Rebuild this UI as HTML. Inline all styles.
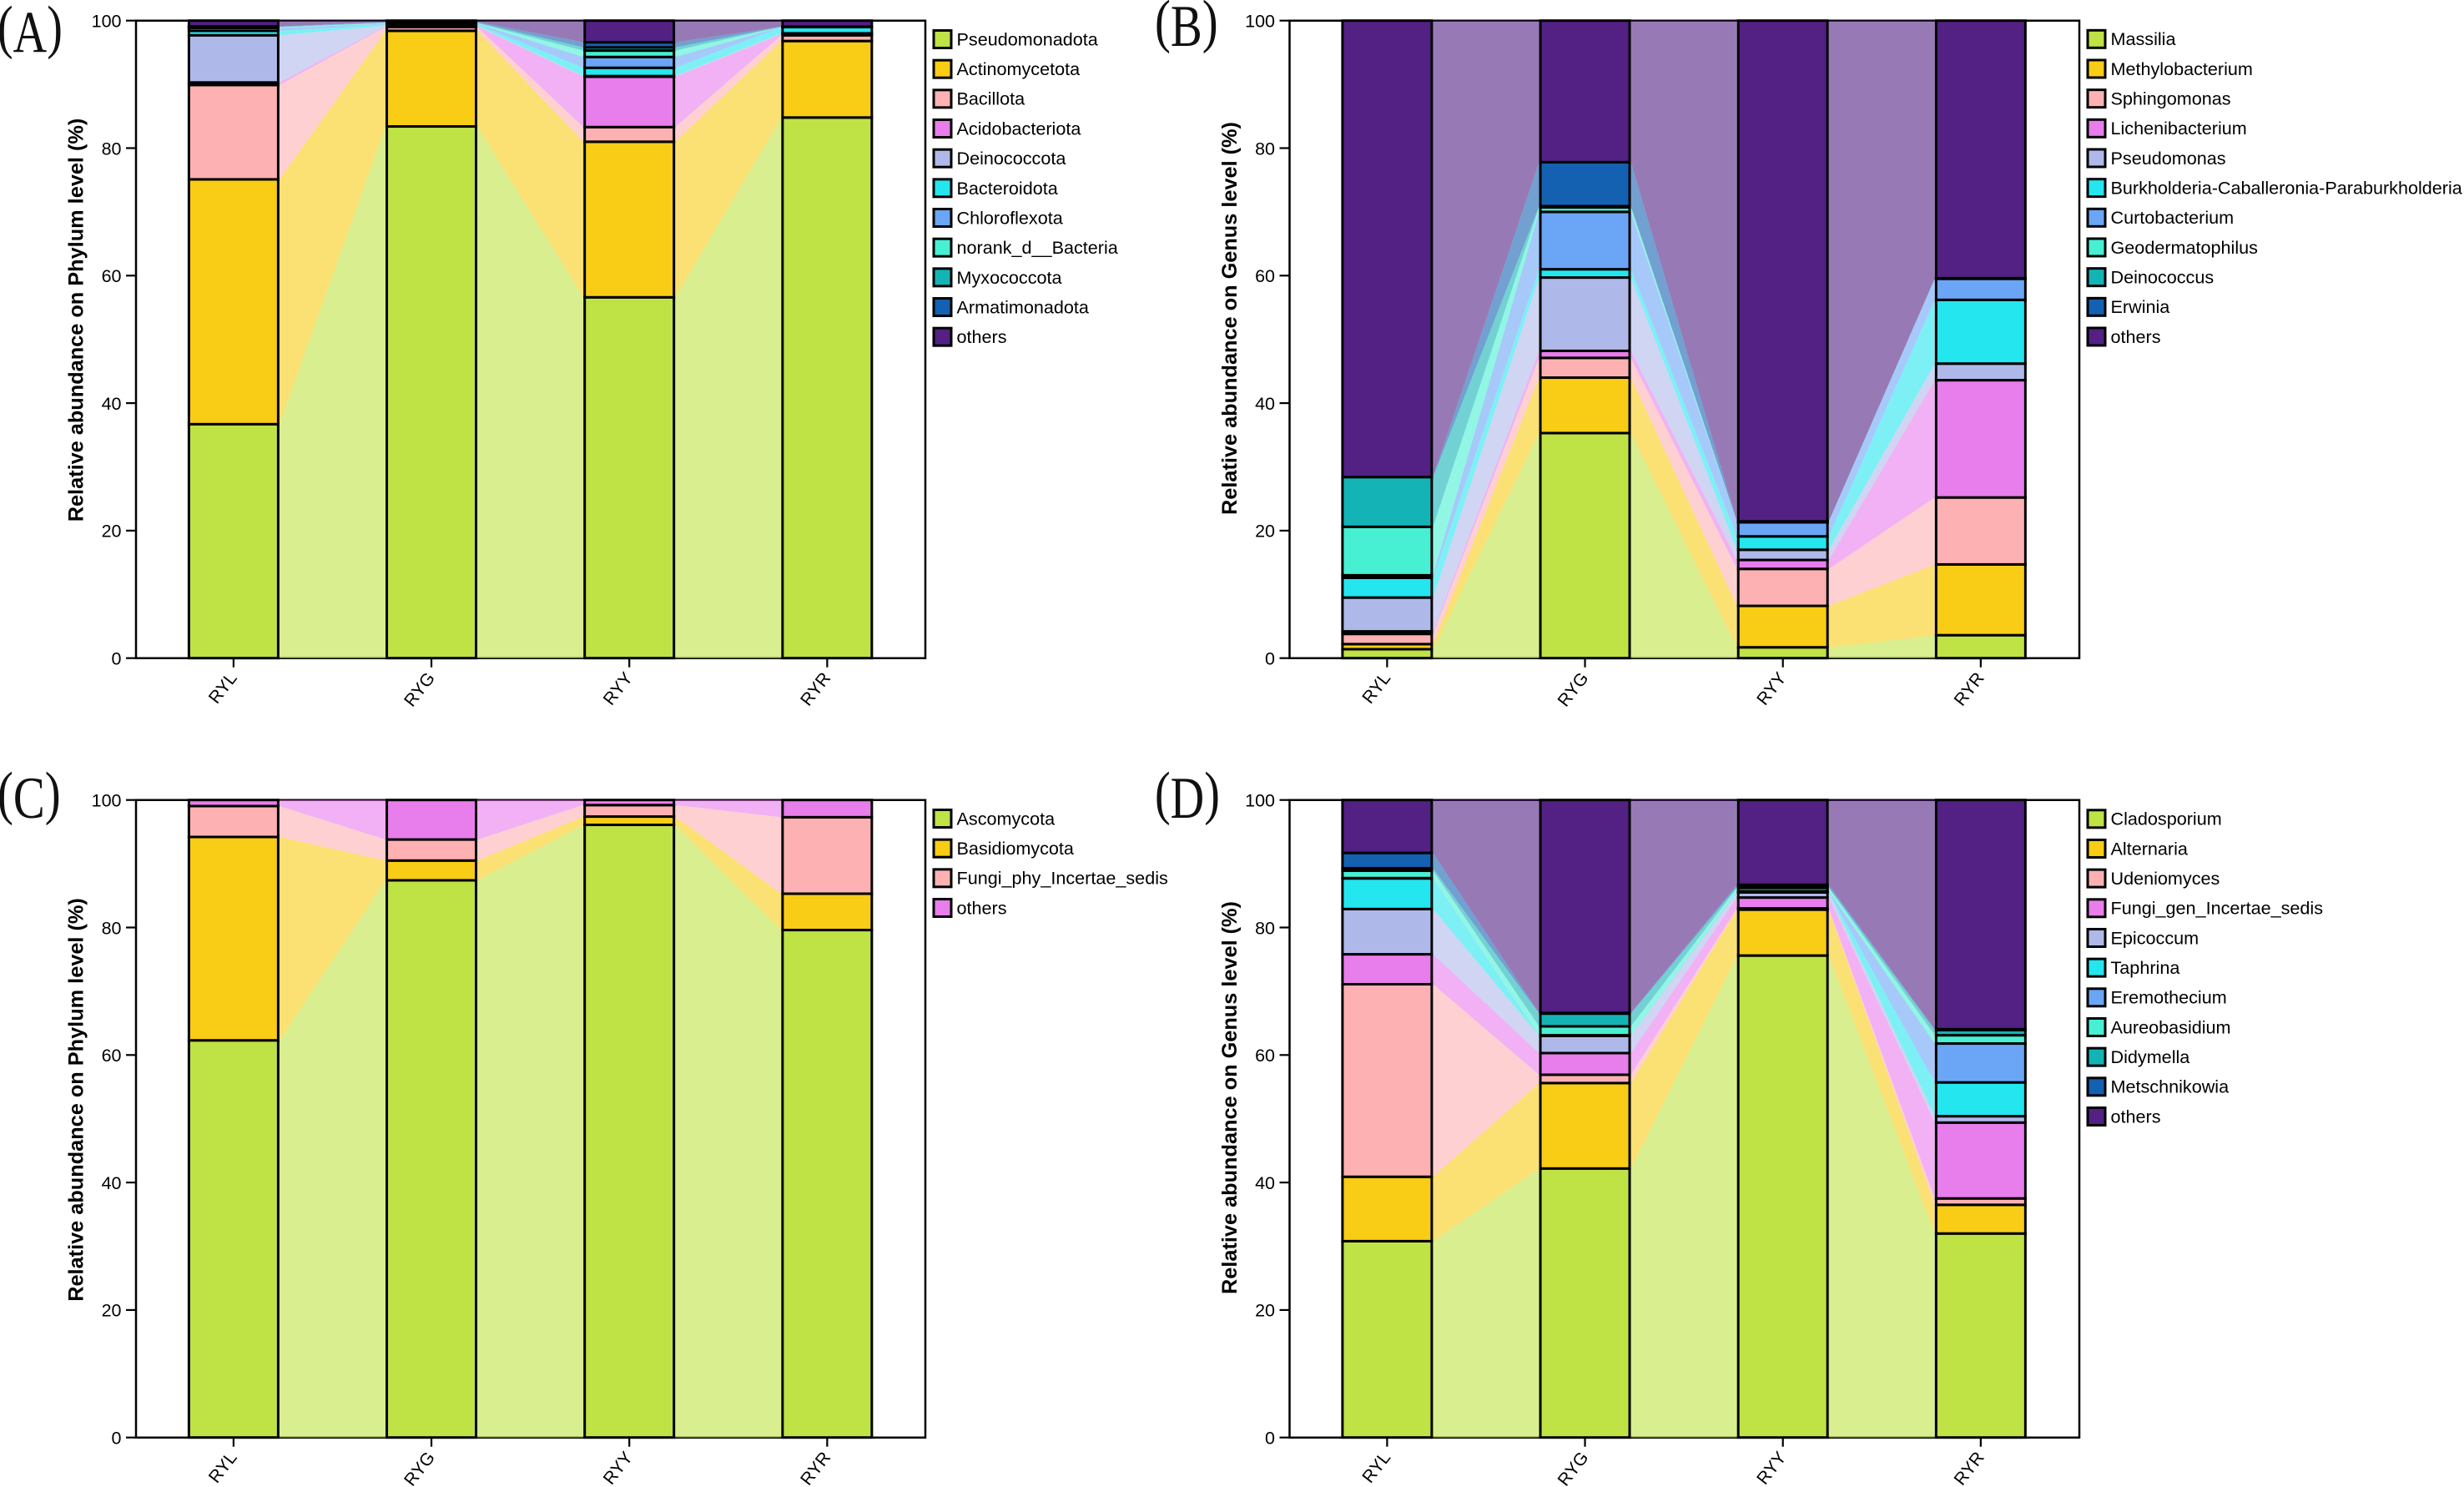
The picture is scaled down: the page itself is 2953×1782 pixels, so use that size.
<!DOCTYPE html>
<html lang="en">
<head>
<meta charset="utf-8">
<title>Relative abundance stacked bar charts</title>
<style>
  html, body { margin: 0; padding: 0; background: #fff; }
  svg { display: block; }
  text { font-family: "Liberation Sans", Arial, sans-serif; fill: #000; }
  .panel-letter { font-family: "Liberation Serif", "Times New Roman", serif; font-size: 71px; fill: #111; }
</style>
</head>
<body>
<svg id="figure" xmlns="http://www.w3.org/2000/svg" width="2953" height="1782" viewBox="0 0 2953 1782">
  <rect x="0" y="0" width="2953" height="1782" fill="#ffffff"/>
  <g id="panel-a"></g>
  <g id="panel-b"></g>
  <g id="panel-c"></g>
  <g id="panel-d"></g>
  <text class="panel-letter" transform="translate(-3,0) scale(0.79,1)"><tspan y="56">(</tspan><tspan y="62">A</tspan><tspan y="56">)</tspan></text>
  <text class="panel-letter" transform="translate(1384,0) scale(0.80,1)"><tspan y="49">(</tspan><tspan y="55">B</tspan><tspan y="49">)</tspan></text>
  <text class="panel-letter" transform="translate(-3,0) scale(0.80,1)"><tspan y="974">(</tspan><tspan y="980">C</tspan><tspan y="974">)</tspan></text>
  <text class="panel-letter" transform="translate(1384,0) scale(0.79,1)"><tspan y="974">(</tspan><tspan y="980">D</tspan><tspan y="974">)</tspan></text>
</svg>
<script>
// ---- shared axis data ----
const categories = ['RYL', 'RYG', 'RYY', 'RYR'];
const yTickValues = [0, 20, 40, 60, 80, 100];

// ---- palette ----
const palette = ['#BFE245', '#F9CC15', '#FDB1B3', '#E87DEC', '#AFB9E9', '#24E6EE', '#6BA5F6', '#47F0D2', '#14B3B6', '#1460B1', '#522183'];

// ---- panel A: phylum level, bacteria ----
const panelASeries = ['Pseudomonadota', 'Actinomycetota', 'Bacillota', 'Acidobacteriota', 'Deinococcota', 'Bacteroidota', 'Chloroflexota', 'norank_d__Bacteria', 'Myxococcota', 'Armatimonadota', 'others'];
const panelA_RYL = [36.7, 38.4, 14.8, 0.4, 7.4, 0.7, 0.45, 0.1, 0.1, 0.05, 0.9];
const panelA_RYG = [83.4, 15.0, 0.6, 0.1, 0.1, 0.2, 0.1, 0.1, 0.1, 0.1, 0.2];
const panelA_RYY = [56.6, 24.4, 2.3, 7.9, 0.1, 1.3, 1.7, 1.0, 0.5, 0.8, 3.4];
const panelA_RYR = [84.8, 12.0, 0.9, 0.15, 0.15, 1.0, 0.02, 0.01, 0.01, 0.01, 0.95];

// ---- panel B: genus level, bacteria ----
const panelBSeries = ['Massilia', 'Methylobacterium', 'Sphingomonas', 'Lichenibacterium', 'Pseudomonas', 'Burkholderia-Caballeronia-Paraburkholderia', 'Curtobacterium', 'Geodermatophilus', 'Deinococcus', 'Erwinia', 'others'];
const panelB_RYL = [1.4, 0.8, 1.6, 0.4, 5.3, 3.1, 0.4, 7.6, 7.8, 0, 71.6];
const panelB_RYG = [35.3, 8.7, 3.1, 1.1, 11.5, 1.3, 9.0, 0.7, 0.2, 6.9, 22.2];
const panelB_RYY = [1.7, 6.5, 5.8, 1.4, 1.6, 2.1, 2.2, 0.05, 0.05, 0.05, 78.55];
const panelB_RYR = [3.6, 11.1, 10.5, 18.4, 2.6, 10.0, 3.3, 0, 0.05, 0.05, 40.4];

// ---- panel C: phylum level, fungi ----
const panelCSeries = ['Ascomycota', 'Basidiomycota', 'Fungi_phy_Incertae_sedis', 'others'];
const panelC_RYL = [62.3, 31.9, 4.85, 0.95];
const panelC_RYG = [87.4, 3.1, 3.3, 6.2];
const panelC_RYY = [96.1, 1.3, 1.8, 0.8];
const panelC_RYR = [79.6, 5.7, 12.0, 2.7];

// ---- panel D: genus level, fungi ----
const panelDSeries = ['Cladosporium', 'Alternaria', 'Udeniomyces', 'Fungi_gen_Incertae_sedis', 'Epicoccum', 'Taphrina', 'Eremothecium', 'Aureobasidium', 'Didymella', 'Metschnikowia', 'others'];
const panelD_RYL = [30.8, 10.1, 30.2, 4.7, 7.1, 4.8, 0.05, 1.15, 0.4, 2.4, 8.3];
const panelD_RYG = [42.2, 13.4, 1.3, 3.4, 2.7, 0.05, 0.05, 1.4, 2.0, 0.1, 33.4];
const panelD_RYY = [75.6, 7.2, 0.2, 1.7, 0.8, 0.1, 0.1, 0.5, 0.2, 0.3, 13.3];
const panelD_RYR = [32.0, 4.5, 1.0, 11.9, 1.0, 5.3, 6.1, 1.3, 0.8, 0.15, 35.95];

const titlePhylum = 'Relative abundance on Phylum level (%)';
const titleGenus = 'Relative abundance on Genus level (%)';

const SVG_NS = 'http://www.w3.org/2000/svg';

function make(parent, tag, attrs) {
  const el = document.createElementNS(SVG_NS, tag);
  for (const key in attrs) el.setAttribute(key, attrs[key]);
  parent.appendChild(el);
  return el;
}

function slug(text) {
  return String(text).toLowerCase().replace(/[^a-z0-9]+/g, '-').replace(/^-|-$/g, '');
}

function drawPanel(host, layout, series, columns, title) {
  const left = layout.left, right = layout.right, top = layout.top, bottom = layout.bottom;
  const yScale = function (v) { return bottom - (bottom - top) * v / 100; };
  const xScale = function (i) { return left + 116.9 + 237.15 * i; };
  const barHalf = 53.5;

  const stacks = columns.map(function (values) {
    let sum = 0;
    return values.map(function (v) {
      const seg = { from: sum, to: sum + v };
      sum += v;
      return seg;
    });
  });

  // plot frame sits beneath the translucent flows
  const frame = make(host, 'path', {
    d: 'M' + left + ' ' + top + 'H' + right + 'V' + bottom + 'H' + left + 'Z',
    fill: '#ffffff', stroke: '#000000', 'stroke-width': 2.5
  });
  
  

  // y axis ticks and labels
  yTickValues.forEach(function (t) {
    const tick = make(host, 'line', {
      x1: left - 12, x2: left, y1: yScale(t), y2: yScale(t),
      stroke: '#000000', 'stroke-width': 2.2
    });
    
    
    const label = make(host, 'text', {
      x: left - 17.5, y: yScale(t) + 7.8, 'text-anchor': 'end', 'font-size': 21.5
    });
    label.textContent = t;
    
    
  });

  // x axis ticks and labels
  categories.forEach(function (name, i) {
    const tick = make(host, 'line', {
      x1: xScale(i), x2: xScale(i), y1: bottom, y2: bottom + 11,
      stroke: '#000000', 'stroke-width': 2.2
    });
    
    
    const lx = xScale(i) + 5, ly = bottom + 24;
    const label = make(host, 'text', {
      x: lx, y: ly, 'text-anchor': 'end', 'font-size': 21,
      transform: 'rotate(-52 ' + lx + ' ' + ly + ')'
    });
    label.textContent = name;
    
    
  });

  // y axis title
  const tx = left - 63.7, ty = layout.titleY;
  const yTitle = make(host, 'text', {
    x: tx, y: ty, 'text-anchor': 'middle', 'font-size': 25.3, 'font-weight': 'bold',
    transform: 'rotate(-90 ' + tx + ' ' + ty + ')'
  });
  yTitle.textContent = title;
  
  

  // flows between adjacent bars
  for (let c = 0; c < categories.length - 1; c++) {
    series.forEach(function (name, s) {
      const a = stacks[c][s], b = stacks[c + 1][s];
      const x1 = xScale(c) + barHalf + 1.5, x2 = xScale(c + 1) - barHalf - 1.5;
      const flow = make(host, 'polygon', {
        points: x1 + ',' + yScale(a.from) + ' ' + x1 + ',' + yScale(a.to) + ' ' + x2 + ',' + yScale(b.to) + ' ' + x2 + ',' + yScale(b.from),
        fill: palette[s], 'fill-opacity': 0.6, stroke: 'none'
      });
      
      
    });
  }

  // stacked bars
  categories.forEach(function (cat, c) {
    series.forEach(function (name, s) {
      const seg = stacks[c][s];
      const bar = make(host, 'rect', {
        x: xScale(c) - barHalf, y: yScale(seg.to), width: barHalf * 2,
        height: Math.max(0, yScale(seg.from) - yScale(seg.to)),
        fill: palette[s], stroke: '#000000', 'stroke-width': 3
      });
      
      
    });
  });

  // legend
  series.forEach(function (name, s) {
    const cy = layout.legendY + 35.67 * s;
    const swatch = make(host, 'rect', {
      x: right + 10, y: cy - 10.5, width: 21, height: 21,
      fill: palette[s], stroke: '#000000', 'stroke-width': 3
    });
    
    
    const label = make(host, 'text', {
      x: right + 37.5, y: cy + 7.4, 'font-size': 21.6
    });
    label.textContent = name;
    
    
  });
}

drawPanel(document.getElementById('panel-a'),
  { left: 163, right: 1109, top: 24.7, bottom: 788.7, titleY: 383.5, legendY: 47 },
  panelASeries, [panelA_RYL, panelA_RYG, panelA_RYY, panelA_RYR], titlePhylum);

drawPanel(document.getElementById('panel-b'),
  { left: 1545.5, right: 2492, top: 24.7, bottom: 788.7, titleY: 381.5, legendY: 46.8 },
  panelBSeries, [panelB_RYL, panelB_RYG, panelB_RYY, panelB_RYR], titleGenus);

drawPanel(document.getElementById('panel-c'),
  { left: 163, right: 1109, top: 958.7, bottom: 1722.7, titleY: 1318, legendY: 981 },
  panelCSeries, [panelC_RYL, panelC_RYG, panelC_RYY, panelC_RYR], titlePhylum);

drawPanel(document.getElementById('panel-d'),
  { left: 1545.5, right: 2492, top: 958.7, bottom: 1722.7, titleY: 1315.5, legendY: 981.3 },
  panelDSeries, [panelD_RYL, panelD_RYG, panelD_RYY, panelD_RYR], titleGenus);
</script>
</body>
</html>
